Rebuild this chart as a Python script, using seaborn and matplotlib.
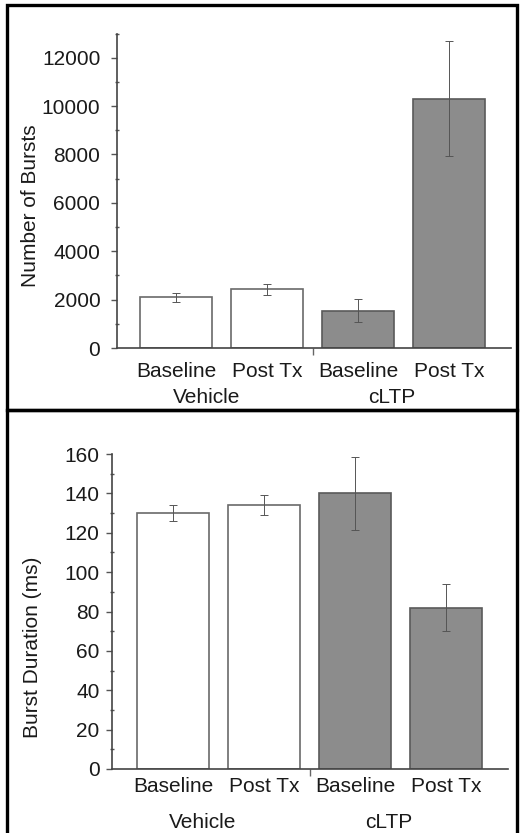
import matplotlib
matplotlib.use("Agg")
import matplotlib.pyplot as plt
import seaborn as sns
import pandas as pd
from matplotlib.patches import Rectangle
from matplotlib.ticker import MultipleLocator, FixedLocator

conditions = ["Vehicle Baseline", "Vehicle Post Tx", "cLTP Baseline", "cLTP Post Tx"]
tick_labels = ["Baseline", "Post Tx", "Baseline", "Post Tx"]
groups = ["Vehicle", "cLTP"]
bursts = [2100, 2430, 1550, 10300]
bursts_err = [180, 230, 480, 2380]
duration = [130, 134, 140, 82]
duration_err = [4, 5, 18.5, 12]
fills = ["#ffffff", "#ffffff", "#8c8c8c", "#8c8c8c"]
edges = ["#6a6a6a", "#6a6a6a", "#5a5a5a", "#5a5a5a"]

sns.set_theme(style="white")
plt.rcParams["font.family"] = ["Liberation Sans", "DejaVu Sans"]

fig = plt.figure(figsize=(5.23, 8.33), dpi=100)

def panel(rect, values, errs, ylim, major, minor, ylabel, xlim, label_xy, tick_pad, xlab_pad, group_y):
    ax = fig.add_axes(rect)
    df = pd.DataFrame({"cond": conditions, "val": values})
    sns.barplot(data=df, x="cond", y="val", hue="cond", palette=fills,
                legend=False, width=0.79, ax=ax, errorbar=None, linewidth=1.2)
    for p, ec in zip(ax.patches, edges):
        p.set_edgecolor(ec)
    ax.errorbar(range(len(values)), values, yerr=errs, fmt="none",
                ecolor="#555555", elinewidth=0.7, capsize=3, capthick=0.7)
    ax.set_ylim(*ylim)
    ax.set_xlim(*xlim)
    ax.yaxis.set_major_locator(MultipleLocator(major))
    ax.yaxis.set_minor_locator(MultipleLocator(minor))
    ax.set_xticks(range(4))
    ax.set_xticklabels(tick_labels, fontsize=15, color="#1a1a1a")
    ax.xaxis.set_minor_locator(FixedLocator([1.5]))
    ax.tick_params(axis="x", which="major", length=0, pad=xlab_pad)
    ax.tick_params(axis="x", which="minor", bottom=True, length=5, width=1, color="#666666", direction="out")
    ax.tick_params(axis="y", which="major", left=True, length=4, width=1, color="#555555",
                   direction="out", labelsize=15, pad=tick_pad, labelcolor="#1a1a1a")
    ax.tick_params(axis="y", which="minor", left=True, length=3, width=1, color="#555555", direction="inout")
    for s in ["top", "right"]:
        ax.spines[s].set_visible(False)
    for s in ["left", "bottom"]:
        ax.spines[s].set_color("#444444")
        ax.spines[s].set_linewidth(1.2)
    ax.set_xlabel("")
    ax.set_ylabel(ylabel, fontsize=15, color="#1a1a1a")
    ax.yaxis.set_label_coords(*label_xy)
    ax.text(0.33, group_y, groups[0], transform=ax.get_xaxis_transform(), ha="center", va="center",
            fontsize=15, color="#1a1a1a")
    ax.text(2.37, group_y, groups[1], transform=ax.get_xaxis_transform(), ha="center", va="center",
            fontsize=15, color="#1a1a1a")
    return ax

# top panel
panel([117/523, 485/833, 394/523, 314.5/833], bursts, bursts_err, (0, 13000), 2000, 1000,
      "Number of Bursts", (-0.65, 3.68), (-0.195, 0.454), 8, 10, -0.157)
# bottom panel
panel([112/523, 64/833, 396/523, 315/833], duration, duration_err, (0, 160), 20, 10,
      "Burst Duration (ms)", (-0.67, 3.68), (-0.178, 0.387), 5, 6, -0.169)

# panel borders
fig.patches.append(Rectangle((7/523, 1 - 410/833), 510/523, 405/833, transform=fig.transFigure,
                             fill=False, edgecolor="black", linewidth=2.4))
fig.patches.append(Rectangle((7/523, -0.01), 510/523, (833 - 410)/833 + 0.01, transform=fig.transFigure,
                             fill=False, edgecolor="black", linewidth=2.4))

fig.savefig("out.png", dpi=100)
